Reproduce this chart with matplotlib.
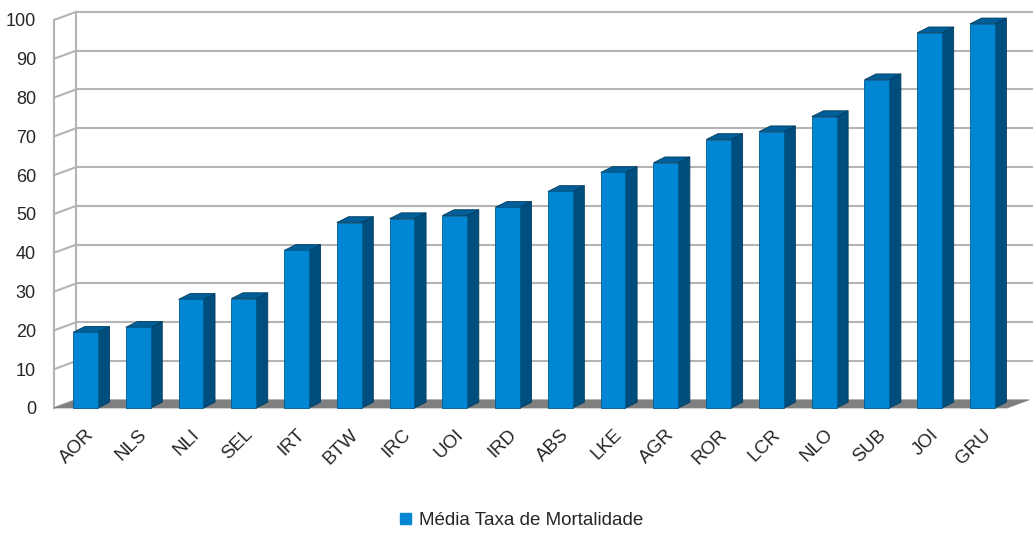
import numpy as np
import matplotlib.pyplot as plt
from matplotlib.patches import Polygon, Patch

plt.rcParams['font.family'] = ['Liberation Sans', 'DejaVu Sans']

# Mean mortality rate per unit
units = ["AOR", "NLS", "NLI", "SEL", "IRT", "BTW", "IRC", "UOI", "IRD",
         "ABS", "LKE", "AGR", "ROR", "LCR", "NLO", "SUB", "JOI", "GRU"]
rates = [19.5, 20.8, 28.0, 28.2, 40.6, 47.8, 48.8, 49.6, 51.7,
         55.8, 60.7, 63.2, 69.2, 71.2, 75.1, 84.6, 96.7, 99.0]
yticks = list(range(0, 101, 10))
legend_label = "Média Taxa de Mortalidade"

front_c = "#0086d3"
side_c = "#004e7e"
top_c = "#005f98"
grid_c = "#b4b4b4"
floor_c = "#7f7f7f"
text_c = "#262626"

fig = plt.figure(figsize=(10.33, 5.34), dpi=100)
ax = fig.add_axes([54 / 1033, (534 - 408) / 534, (1007 - 54) / 1033, 388 / 534])

xl, xr = -0.597, 17.466
ax.set_xlim(xl, xr)
ax.set_ylim(0, 100)

# depth of the back wall and of each bar, in data units
dx, dy = 0.42, 2.1
bw, bdx, bdy = 0.47, 0.22, 1.5

# back wall grid with the slanted links to the front axis
x_end = xr + dx + 1
for v in yticks:
    ax.plot([xl, xl + dx], [v, v + dy], color=grid_c, lw=1.5, clip_on=False, zorder=1)
    if v > 0:
        ax.plot([xl + dx, x_end], [v + dy, v + dy], color=grid_c, lw=1.5, clip_on=False, zorder=1)
ax.plot([xl + dx, xl + dx], [dy, 100 + dy], color=grid_c, lw=1.5, clip_on=False, zorder=1)
ax.plot([xl, xl], [0, 100], color=grid_c, lw=1.5, clip_on=False, zorder=1)

# floor
floor = Polygon([(xl, 0), (xr, 0), (xr + dx, dy), (xl + dx, dy)], closed=True,
                facecolor=floor_c, edgecolor=floor_c, lw=0.5, clip_on=False, zorder=2)
ax.add_patch(floor)

# 3D-looking bars
for i, v in enumerate(rates):
    x0, x1 = i - bw / 2, i + bw / 2
    side = Polygon([(x1, 0), (x1 + bdx, bdy), (x1 + bdx, v + bdy), (x1, v)], closed=True,
                   facecolor=side_c, edgecolor="#003c60", lw=0.6, clip_on=False, zorder=3)
    top = Polygon([(x0, v), (x1, v), (x1 + bdx, v + bdy), (x0 + bdx, v + bdy)], closed=True,
                  facecolor=top_c, edgecolor="#003c60", lw=0.6, clip_on=False, zorder=3)
    front = Polygon([(x0, 0), (x1, 0), (x1, v), (x0, v)], closed=True,
                    facecolor=front_c, edgecolor="#005a90", lw=0.6, clip_on=False, zorder=4)
    for p in (side, top, front):
        ax.add_patch(p)

for s in ax.spines.values():
    s.set_visible(False)

ax.set_yticks(yticks)
ax.set_yticklabels([str(t) for t in yticks], fontsize=13, color=text_c)
ax.tick_params(axis="y", length=0, pad=13)

ax.set_xticks(range(len(units)))
ax.set_xticklabels(units, rotation=45, ha="right", rotation_mode="anchor",
                   fontsize=13.5, color=text_c)
ax.tick_params(axis="x", length=0, pad=13)

fig.legend(handles=[Patch(facecolor=front_c, edgecolor=front_c, label=legend_label)],
           loc="center", bbox_to_anchor=(0.505, 0.025), frameon=False,
           handlelength=0.6, handleheight=0.6, handletextpad=0.4,
           prop={"size": 13.5}, labelcolor=text_c)

fig.savefig("out.png", dpi=100)
